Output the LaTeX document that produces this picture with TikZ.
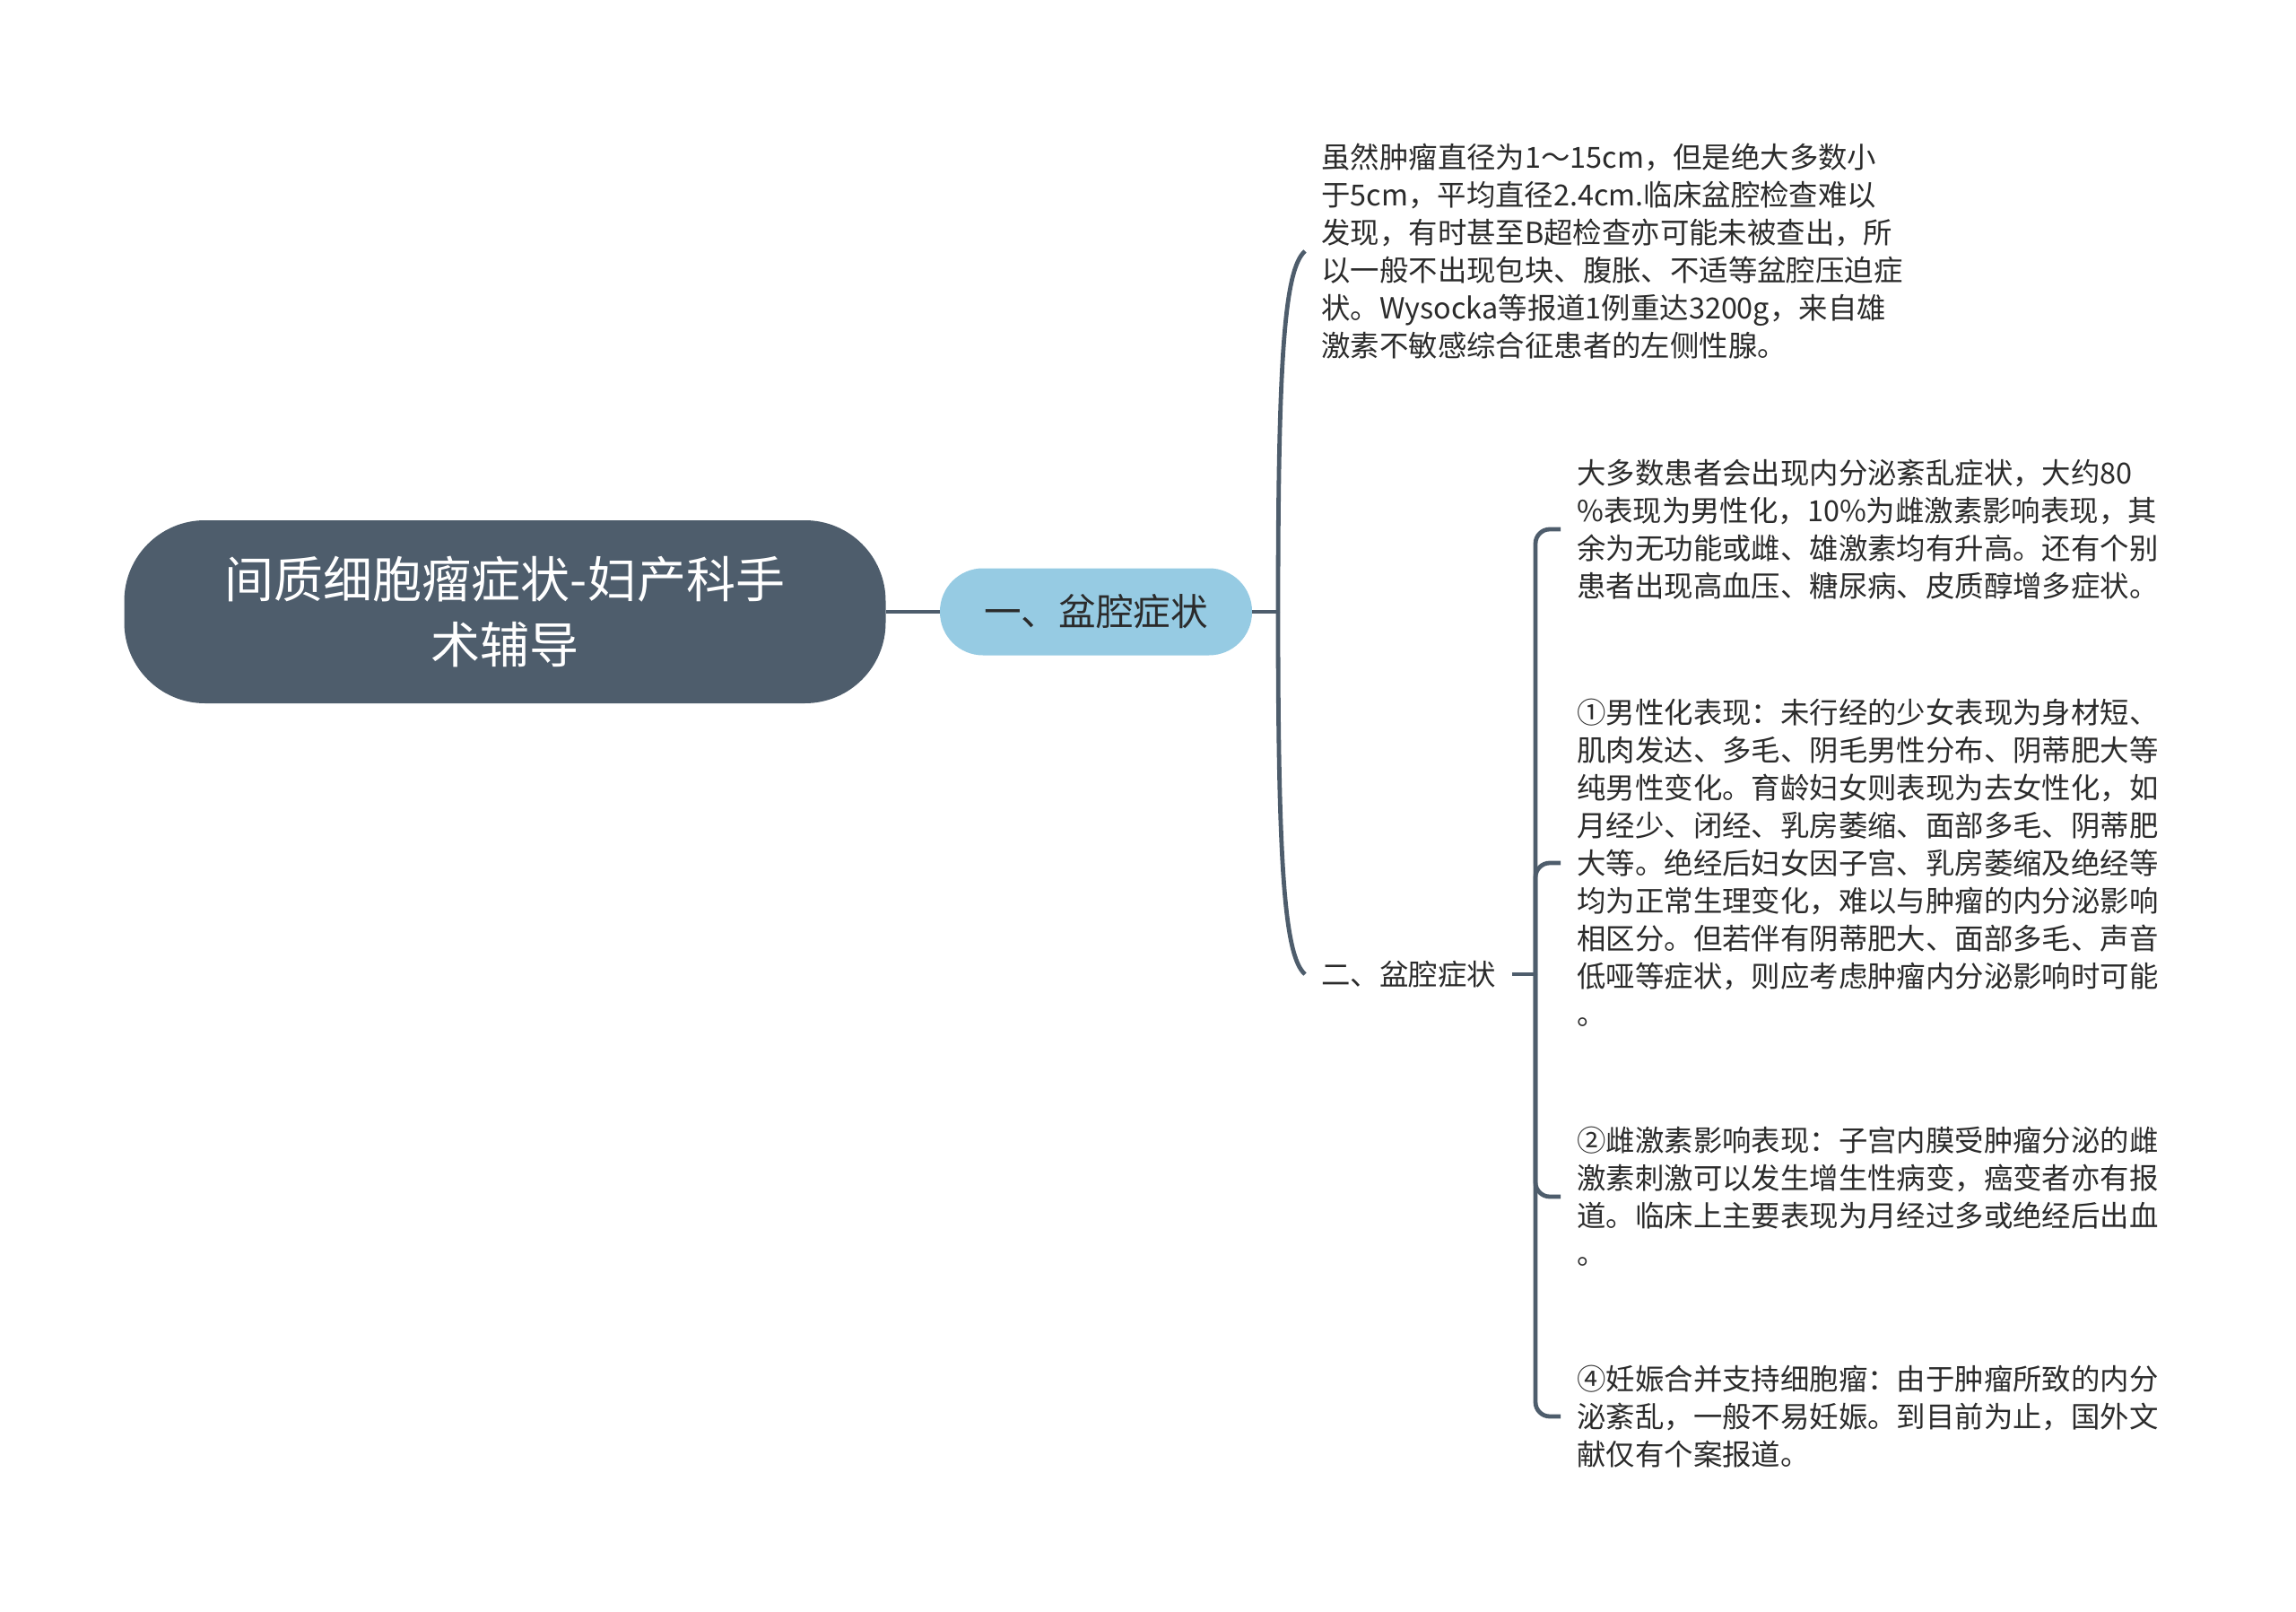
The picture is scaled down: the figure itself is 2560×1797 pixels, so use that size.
\documentclass[tikz,border=0pt]{standalone}
\usepackage{fontspec}
\setmainfont{Noto Sans CJK SC}
\usepackage{tikz}
\usetikzlibrary{positioning}
\definecolor{slate}{HTML}{4E5D6C}
\definecolor{sky}{HTML}{96CBE3}
\definecolor{ink}{HTML}{2B2B2B}

\begin{document}
\begin{tikzpicture}[x=0.5pt,y=-0.5pt]

\def\fs{16.2}
\tikzstyle{topic} = [
	fill=slate, text=white, rounded corners=45pt, align=center,
	minimum width=424.5pt, minimum height=102pt,
	font=\fontsize{27.5}{36.5}\selectfont ];
\tikzstyle{branch} = [
	fill=sky, text=ink, rounded corners=24pt,
	minimum width=174pt, minimum height=48.5pt,
	font=\fontsize{20.8}{25}\selectfont ];
\tikzstyle{leaf} = [anchor=west, align=left, text=ink,
	inner xsep=9pt, inner ysep=0pt, font=\fontsize{\fs}{21}\selectfont];
\tikzstyle{link} = [draw=slate, line width=2.4pt];
\tikzstyle{elbow} = [link, rounded corners=8pt];

\useasboundingbox (0,0) rectangle (2560,1797);

\node[topic] (root) at (563,682) {间质细胞瘤症状-妇产科手\\术辅导};
\node[branch] (n1) at (1222,682) {一、盆腔症状};
\coordinate (j1) at (1425,682);

\node[leaf] (t1) at (1455,280) {虽然肿瘤直径为1～15cm，但是绝大多数小\\
于5cm，平均直径2.4cm.临床盆腔检查难以\\
发现，有时甚至B超检查亦可能未被查出，所\\
以一般不出现包块、腹胀、不适等盆腔压迫症\\
状。Wysocka等报道1例重达3200g，来自雄\\
激素不敏感综合征患者的左侧性腺。};
\node[leaf] (n2) at (1455,1086) {二、盆腔症状};
\coordinate (j2) at (1712,1086);

\node[leaf] (c1) at (1740,590) {大多数患者会出现内分泌紊乱症状，大约80\\
\%表现为男性化，10\%为雌激素影响表现，其\\
余为无功能或雌、雄激素均有升高。还有个别\\
患者出现高血压、糖尿病、皮质醇增多症状。};
\node[leaf] (c2) at (1740,962) {①男性化表现：未行经的少女表现为身材短、\\
肌肉发达、多毛、阴毛男性分布、阴蒂肥大等\\
纯男性变化。育龄妇女则表现为去女性化，如\\
月经少、闭经、乳房萎缩、面部多毛、阴蒂肥\\
大等。绝经后妇女因子宫、乳房萎缩及绝经等\\
均为正常生理变化，难以与肿瘤的内分泌影响\\
相区分。但若伴有阴蒂肥大、面部多毛、声音\\
低哑等症状，则应考虑肿瘤内分泌影响时可能\\
。};
\node[leaf] (c3) at (1740,1334) {②雌激素影响表现：子宫内膜受肿瘤分泌的雌\\
激素刺激可以发生增生性病变，癌变者亦有报\\
道。临床上主要表现为月经过多或绝经后出血\\
。};
\node[leaf] (c4) at (1740,1579) {④妊娠合并支持细胞瘤：由于肿瘤所致的内分\\
泌紊乱，一般不易妊娠。到目前为止，国外文\\
献仅有个案报道。};

\draw[link] (root.east) -- (n1.west);
\draw[link] (n1.east) -- (j1);
\draw[link] (j1) .. controls (1425,400) and (1432,300) .. (t1.west);
\draw[link] (j1) .. controls (1425,964) and (1432,1066) .. (n2.west);
\draw[link] (n2.east) -- (j2);
\foreach \c in {c1,c2,c3,c4}
	\draw[elbow] (j2) |- (\c.west);

\end{tikzpicture}
\end{document}
